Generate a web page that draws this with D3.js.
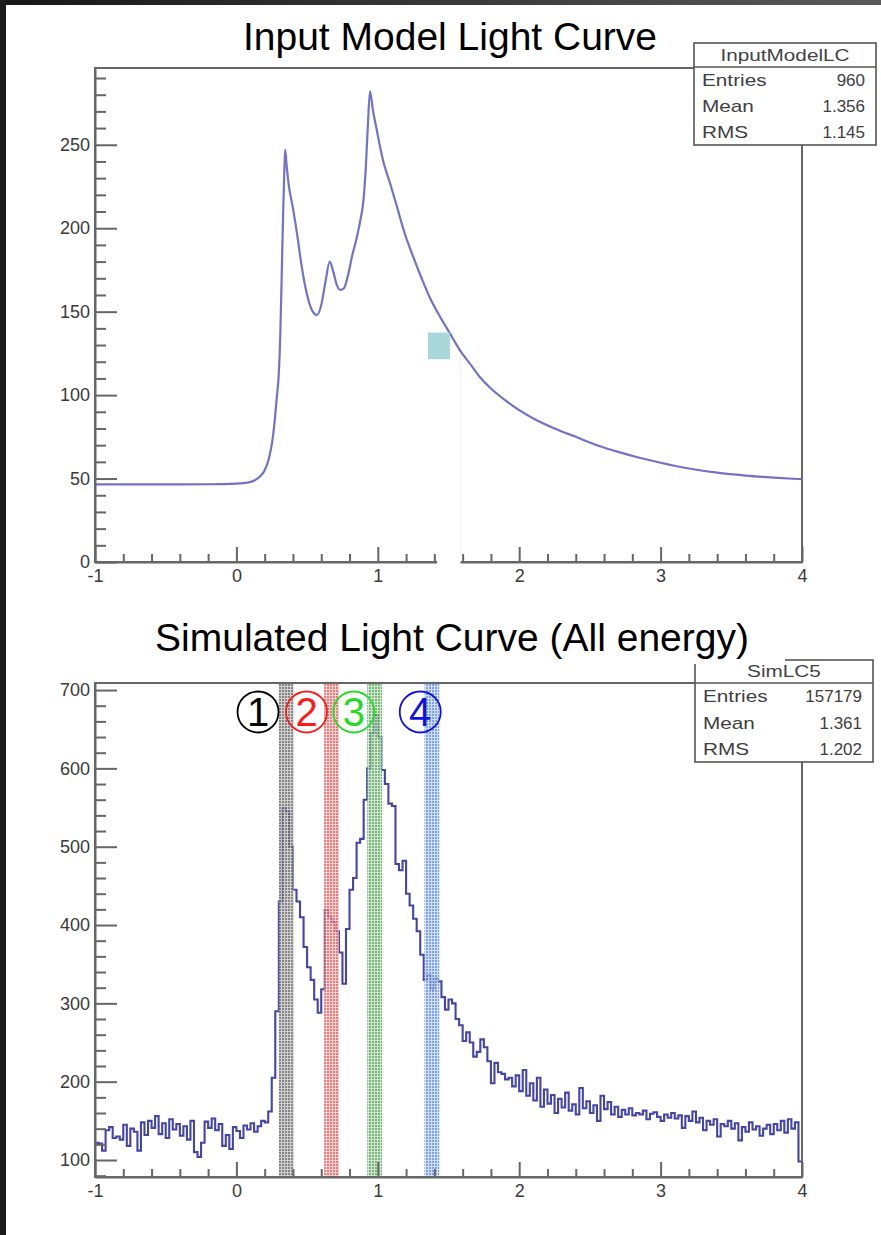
<!DOCTYPE html>
<html>
<head>
<meta charset="utf-8">
<script src="https://cdn.jsdelivr.net/npm/d3@7"></script>
<style>
  html, body { margin: 0; padding: 0; background: #fff; }
  svg { display: block; font-family: "Liberation Sans", Arial, Helvetica, sans-serif; }
</style>
</head>
<body>
<svg id="chart" width="881" height="1235"></svg>
<script>
// ---------------- data ----------------
// Input model light curve (phase, counts)
const modelPhase = [
  -1.00, -0.60, -0.20, 0.00, 0.08, 0.13, 0.17, 0.20, 0.23, 0.255,
  0.27, 0.285, 0.30, 0.31, 0.32, 0.33, 0.338, 0.345, 0.355, 0.37,
  0.40, 0.43, 0.46, 0.50, 0.54, 0.57, 0.60, 0.63, 0.66, 0.685,
  0.71, 0.735, 0.76, 0.79, 0.82, 0.85, 0.875, 0.90, 0.915, 0.93,
  0.945, 0.965, 0.99, 1.036, 1.09, 1.135, 1.19, 1.25, 1.31, 1.37,
  1.44, 1.51, 1.58, 1.65, 1.72, 1.80, 1.90, 2.00, 2.10, 2.25,
  2.40, 2.55, 2.70, 2.85, 3.00, 3.20, 3.40, 3.60, 3.80, 4.00
];
const modelCounts = [
  46.5, 46.5, 46.6, 47.0, 47.6, 49.0, 51.5, 55, 62, 73,
  84, 98, 113, 135, 170, 207, 232, 247, 238, 226,
  212, 196, 178, 160, 150, 148, 154, 168, 180, 174,
  166, 163, 164, 172, 184, 194, 204, 218, 236, 262,
  282, 271, 260, 241, 226, 213, 197, 183, 170, 158,
  147, 137, 127, 119, 111, 104, 97, 91, 86, 80,
  75, 70, 66, 62.5, 59.5, 56, 53.5, 51.8, 50.6, 49.6
];

// Simulated light curve, all energies: 200 bins of width 0.025 from phase -1
const simFirstEdge = -1;
const simBinWidth = 0.025;
const simCounts = [
  122, 121, 112, 138, 142, 128, 130, 126, 145, 118,
  140, 136, 112, 148, 132, 150, 141, 156, 133, 147,
  128, 152, 139, 146, 131, 143, 126, 150, 110, 104,
  122, 149, 141, 153, 138, 146, 118, 132, 114, 142,
  137, 128, 144, 139, 147, 136, 143, 150, 148, 162,
  205, 290, 430, 549, 545, 500, 445, 430, 410, 372,
  346, 330, 305, 288, 318, 419, 410, 404, 392, 365,
  325, 395, 445, 460, 505, 510, 560, 600, 645, 668,
  640, 598, 580, 555, 552, 478, 470, 482, 440, 425,
  408, 392, 362, 330, 336, 318, 332, 328, 308, 292,
  305, 300, 280, 272, 252, 263, 250, 232, 238, 254,
  244, 226, 198, 224, 212, 210, 203, 205, 194, 208,
  188, 215, 182, 198, 176, 205, 168, 190, 172, 183,
  160, 178, 167, 186, 163, 171, 158, 192, 166, 175,
  160, 170, 150, 182, 165, 174, 158, 168, 155, 164,
  158, 166, 157, 160, 158, 163, 152, 159, 161, 155,
  150, 158, 154, 160, 153, 157, 141, 156, 150, 162,
  148, 154, 138, 150, 145, 152, 130, 146, 143, 150,
  140, 147, 125, 142, 136, 148, 139, 143, 131, 140,
  145, 133, 146, 138, 150, 135, 152, 140, 148, 98
];

// Phase windows marked on the simulated curve
const windowNumbers = ["1", "2", "3", "4"];
const windowLow  = [0.300, 0.620, 0.925, 1.330];
const windowHigh = [0.405, 0.725, 1.030, 1.435];

// Axes
const xDomain = [-1, 4];
const xTicks = [-1, 0, 1, 2, 3, 4];
const topYTicks = [0, 50, 100, 150, 200, 250];
const bottomYTicks = [100, 200, 300, 400, 500, 600, 700];

// Statistics boxes
const topStatsName = "InputModelLC";
const topStatsLabels = ["Entries", "Mean", "RMS"];
const topStatsValues = ["960", "1.356", "1.145"];
const bottomStatsName = "SimLC5";
const bottomStatsLabels = ["Entries", "Mean", "RMS"];
const bottomStatsValues = ["157179", "1.361", "1.202"];

// ---------------- drawing ----------------
const svg = d3.select("#chart");
const axisColor = "#666666";
const labelColor = "#3a3a3a";
const fontFamily = '"Liberation Sans", Arial, Helvetica, sans-serif';

const defs = svg.append("defs");
const edgeGrad = defs.append("linearGradient").attr("id", "topEdge").attr("x1", "0").attr("x2", "1");
edgeGrad.append("stop").attr("offset", "0").attr("stop-color", "#161616");
edgeGrad.append("stop").attr("offset", "1").attr("stop-color", "#5a5a5a");

const windowStyles = [
  { bg: "#c4c4c4", dot: "#666666", ring: "#000000" },
  { bg: "#f3c2c2", dot: "#d86262", ring: "#ff1a1a" },
  { bg: "#c4e0c4", dot: "#5aa45a", ring: "#22dd22" },
  { bg: "#c4d6f3", dot: "#5f8cd8", ring: "#1010e0" }
];
windowStyles.forEach((s, i) => {
  const p = defs.append("pattern").attr("id", "dots" + i)
    .attr("width", 3).attr("height", 3).attr("patternUnits", "userSpaceOnUse");
  p.append("rect").attr("width", 3).attr("height", 3).attr("fill", s.bg);
  p.append("rect").attr("width", 2).attr("height", 2).attr("fill", s.dot);
});

svg.append("rect").attr("width", 881).attr("height", 1235).attr("fill", "#ffffff");

// Builds scales and layer groups for one histogram pad.
function makePad(cfg) {
  const x = d3.scaleLinear().domain(xDomain).range([cfg.left, cfg.right]);
  const y = d3.scaleLinear().domain(cfg.yDomain).range([cfg.bottom, cfg.top]);
  const content = svg.append("g");
  const axes = svg.append("g");
  return { x, y, content, axes, cfg };
}

function drawAxes(pad, yTicks, yMinor) {
  const { x, y, axes, cfg } = pad;
  const xMinor = d3.range(-1, 4.0001, 0.2).filter(v => Math.abs(v - Math.round(v)) > 1e-6);

  axes.append("rect")
    .attr("x", cfg.left).attr("y", cfg.top)
    .attr("width", cfg.right - cfg.left).attr("height", cfg.bottom - cfg.top)
    .attr("fill", "none").attr("stroke", axisColor).attr("stroke-width", 2);

  const style = g => {
    g.attr("font-family", fontFamily).attr("font-size", 18);
    g.selectAll("line").attr("stroke", axisColor).attr("stroke-width", 2);
    g.selectAll("path").attr("stroke", axisColor).attr("stroke-width", 2);
    g.selectAll("text").attr("fill", labelColor);
  };

  const gxm = axes.append("g").attr("transform", `translate(0,${cfg.bottom})`)
    .call(d3.axisBottom(x).tickValues(xMinor).tickSize(-8).tickFormat(""));
  gxm.select(".domain").remove();
  style(gxm);

  const gx = axes.append("g").attr("transform", `translate(0,${cfg.bottom})`)
    .call(d3.axisBottom(x).tickValues(xTicks).tickSize(-15).tickSizeOuter(0)
      .tickPadding(7).tickFormat(d3.format("d")));
  gx.selectAll("text").text(d => d < 0 ? "-" + Math.abs(d) : d);
  style(gx);

  const gym = axes.append("g").attr("transform", `translate(${cfg.left},0)`)
    .call(d3.axisLeft(y).tickValues(yMinor).tickSize(-11).tickFormat(""));
  gym.select(".domain").remove();
  style(gym);

  const gy = axes.append("g").attr("transform", `translate(${cfg.left},0)`)
    .call(d3.axisLeft(y).tickValues(yTicks).tickSize(-22).tickSizeOuter(0)
      .tickPadding(5).tickFormat(d3.format("d")));
  style(gy);
}

// Statistics box in ROOT style: frame first, texts in a separate layer
function statsFrame(box) {
  const g = svg.append("g");
  g.append("rect").attr("x", box.x0).attr("y", box.y0)
    .attr("width", box.x1 - box.x0).attr("height", box.y1 - box.y0)
    .attr("fill", "#ffffff").attr("stroke", "#555").attr("stroke-width", 1.6);
  g.append("line").attr("x1", box.x0).attr("x2", box.x1)
    .attr("y1", box.head).attr("y2", box.head)
    .attr("stroke", "#555").attr("stroke-width", 1.4);
}
function statsText(box, name, labels, values) {
  const g = svg.append("g").attr("font-family", fontFamily);
  const head = g.append("text")
    .attr("x", (box.x0 + box.x1) / 2).attr("y", box.head - 6)
    .attr("text-anchor", "middle").attr("font-size", 17).attr("fill", "#444")
    .text(name);
  const hw = head.node().getComputedTextLength();
  head.attr("textLength", hw * 1.22).attr("lengthAdjust", "spacingAndGlyphs");
  const rowH = (box.y1 - box.head) / labels.length;
  labels.forEach((lab, i) => {
    const yb = box.head + rowH * (i + 0.5) + 6;
    const t = g.append("text").attr("x", box.x0 + 8).attr("y", yb)
      .attr("font-size", 17).attr("fill", "#404040").text(lab);
    const w = t.node().getComputedTextLength();
    t.attr("textLength", w * 1.22).attr("lengthAdjust", "spacingAndGlyphs");
    g.append("text").attr("x", box.x1 - 11).attr("y", yb)
      .attr("text-anchor", "end").attr("font-size", 17).attr("fill", "#404040")
      .text(values[i]);
  });
}

// ---------- upper pad: input model ----------
const padTop = makePad({ left: 95, right: 802, top: 68, bottom: 562, yDomain: [0, 296] });

const modelLine = d3.line()
  .x((d, i) => padTop.x(modelPhase[i]))
  .y(d => padTop.y(d))
  .curve(d3.curveMonotoneX);

padTop.content.append("path")
  .datum(modelCounts)
  .attr("d", modelLine)
  .attr("fill", "none")
  .attr("stroke", "#7272c8")
  .attr("stroke-width", 2.2)
  .attr("stroke-linejoin", "round");

drawAxes(padTop, topYTicks, d3.range(0, 291, 10).filter(v => v % 50 !== 0));

// small overlay marks on the upper pad
svg.append("line")
  .attr("x1", padTop.x(1.585)).attr("x2", padTop.x(1.585))
  .attr("y1", padTop.y(125)).attr("y2", padTop.y(6))
  .attr("stroke", "#f2f2f2").attr("stroke-width", 1);
svg.append("rect")
  .attr("x", padTop.x(1.42)).attr("y", padTop.y(6))
  .attr("width", padTop.x(1.585) - padTop.x(1.42)).attr("height", padTop.y(-1.5) - padTop.y(6))
  .attr("fill", "#ffffff");
svg.append("rect")
  .attr("x", padTop.x(1.355)).attr("y", padTop.y(137.5))
  .attr("width", padTop.x(1.51) - padTop.x(1.355)).attr("height", padTop.y(121.5) - padTop.y(137.5))
  .attr("fill", "#a9d6d9");

const topBox = { x0: 694, x1: 876, y0: 43, head: 67, y1: 145 };
statsFrame(topBox);
statsText(topBox, topStatsName, topStatsLabels, topStatsValues);

// ---------- lower pad: simulated curve ----------
const padBot = makePad({ left: 95, right: 802, top: 683, bottom: 1177, yDomain: [78.3, 709] });

const simPoints = simCounts.map((c, i) => [simFirstEdge + i * simBinWidth, c]);
simPoints.push([simFirstEdge + simCounts.length * simBinWidth, simCounts[simCounts.length - 1]]);

const simLine = d3.line()
  .x(d => padBot.x(d[0]))
  .y(d => padBot.y(d[1]))
  .curve(d3.curveStepAfter);

padBot.content.append("path")
  .datum(simPoints)
  .attr("d", simLine)
  .attr("fill", "none")
  .attr("stroke", "#4444aa")
  .attr("stroke-width", 2.1);

// shaded phase windows
padBot.content.selectAll("rect.window")
  .data(windowNumbers)
  .join("rect")
  .attr("class", "window")
  .attr("x", (d, i) => padBot.x(windowLow[i]))
  .attr("width", (d, i) => padBot.x(windowHigh[i]) - padBot.x(windowLow[i]))
  .attr("y", padBot.y(709))
  .attr("height", padBot.y(78.3) - padBot.y(709))
  .attr("fill", (d, i) => `url(#dots${i})`)
  .attr("opacity", 0.8);

drawAxes(padBot, bottomYTicks, d3.range(80, 701, 20).filter(v => v % 100 !== 0));

// circled window numbers
const ringPhase = [0.153, 0.496, 0.830, 1.300];
const rings = svg.append("g").selectAll("g")
  .data(windowNumbers)
  .join("g")
  .attr("transform", (d, i) => `translate(${padBot.x(ringPhase[i])},${padBot.y(672)})`);
rings.append("circle")
  .attr("r", 20.5)
  .attr("fill", "none")
  .attr("stroke", (d, i) => windowStyles[i].ring)
  .attr("stroke-width", 1.8);
rings.append("text")
  .attr("text-anchor", "middle")
  .attr("y", 14)
  .attr("font-family", fontFamily)
  .attr("font-size", 40)
  .attr("fill", (d, i) => windowStyles[i].ring)
  .text(d => d);

const botBox = { x0: 695, x1: 873, y0: 660, head: 683, y1: 762 };
statsFrame(botBox);

// ---------- titles ----------
svg.append("rect").attr("x", 140).attr("y", 600).attr("width", 645).attr("height", 64).attr("fill", "#ffffff");
statsText(botBox, bottomStatsName, bottomStatsLabels, bottomStatsValues);

svg.append("text")
  .attr("x", 450).attr("y", 50)
  .attr("text-anchor", "middle").attr("font-family", fontFamily)
  .attr("font-size", 39).attr("fill", "#000")
  .text("Input Model Light Curve");
svg.append("text")
  .attr("x", 452).attr("y", 651)
  .attr("text-anchor", "middle").attr("font-family", fontFamily)
  .attr("font-size", 39).attr("fill", "#000")
  .text("Simulated Light Curve (All energy)");

// dark page edges
svg.append("rect").attr("x", 0).attr("y", 0).attr("width", 881).attr("height", 5).attr("fill", "url(#topEdge)");
svg.append("rect").attr("x", 0).attr("y", 0).attr("width", 6).attr("height", 1235).attr("fill", "#1b1b1b");
</script>
</body>
</html>
